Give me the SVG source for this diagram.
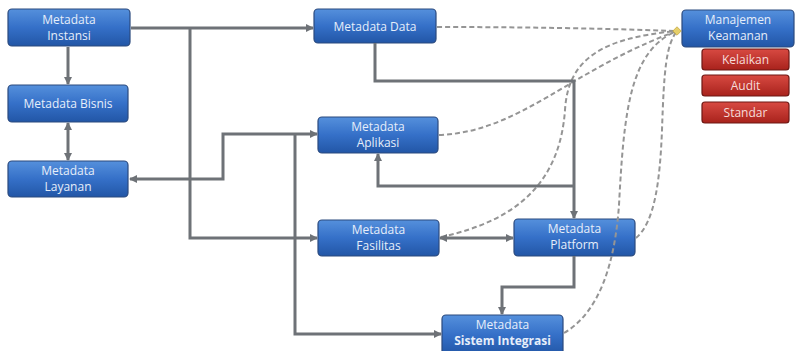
<svg xmlns="http://www.w3.org/2000/svg" width="798" height="351" viewBox="0 0 798 351">
<style>
.n rect{fill:url(#gb);stroke:#2b4a7e;stroke-width:1.2}
.r rect{fill:url(#gr);stroke:#6e1814;stroke-width:1.2}
text{font-family:"Open Sans","Noto Sans","DejaVu Sans",sans-serif;font-size:12px;fill:#e6eefa;text-anchor:middle}
.r text{fill:#f6dcda}
.c path{fill:none;stroke:#6e7277;stroke-width:3;stroke-linejoin:miter}
.d path{fill:none;stroke:#959595;stroke-width:2;stroke-dasharray:5 3}
</style>
<defs>
<linearGradient id="gb" x1="0" y1="0" x2="0" y2="1">
<stop offset="0" stop-color="#5590dc"/><stop offset="0.5" stop-color="#3570c8"/><stop offset="1" stop-color="#2256a6"/>
</linearGradient>
<linearGradient id="gr" x1="0" y1="0" x2="0" y2="1">
<stop offset="0" stop-color="#d84a42"/><stop offset="1" stop-color="#a8221c"/>
</linearGradient>
<marker id="a" viewBox="0 0 8 8" refX="7" refY="4" markerWidth="8" markerHeight="8" markerUnits="userSpaceOnUse" orient="auto-start-reverse">
<path d="M0,0 L8,4 L0,8 z" fill="#6e7277"/>
</marker>
</defs>
<rect width="798" height="351" fill="#ffffff"/>
<g id="instansi" class="n"><rect x="8" y="9" width="122" height="37" rx="4"/><text x="69" y="24">Metadata</text><text x="69" y="40">Instansi</text></g>
<g id="bisnis" class="n"><rect x="8" y="85" width="120" height="37" rx="4"/><text x="68" y="108">Metadata Bisnis</text></g>
<g id="layanan" class="n"><rect x="8" y="161" width="120" height="36" rx="4"/><text x="68" y="175">Metadata</text><text x="68" y="191">Layanan</text></g>
<g id="data" class="n"><rect x="314" y="9" width="122" height="34" rx="4"/><text x="375" y="31">Metadata Data</text></g>
<g id="aplikasi" class="n"><rect x="318" y="117" width="120" height="36" rx="4"/><text x="378" y="131">Metadata</text><text x="378" y="147">Aplikasi</text></g>
<g id="fasilitas" class="n"><rect x="318" y="220" width="121" height="36" rx="4"/><text x="378.5" y="234">Metadata</text><text x="378.5" y="250">Fasilitas</text></g>
<g id="platform" class="n"><rect x="514" y="219" width="121" height="37" rx="4"/><text x="574.5" y="233">Metadata</text><text x="574.5" y="249">Platform</text></g>
<g id="sistem" class="n"><rect x="442" y="315" width="121" height="40" rx="4"/><text x="502.5" y="329">Metadata</text><text x="502.5" y="345" font-weight="bold">Sistem Integrasi</text></g>
<g id="manajemen" class="n"><rect x="682" y="10" width="112" height="37" rx="4"/><text x="738" y="24">Manajemen</text><text x="738" y="40">Keamanan</text></g>
<g id="kelaikan" class="r"><rect x="702" y="49" width="87" height="21" rx="3"/><text x="745.5" y="64">Kelaikan</text></g>
<g id="audit" class="r"><rect x="702" y="75" width="87" height="21" rx="3"/><text x="745.5" y="90">Audit</text></g>
<g id="standar" class="r"><rect x="702" y="102" width="87" height="21" rx="3"/><text x="745.5" y="117">Standar</text></g>
<g id="connectors">
<g class="d">
<path d="M437,27 Q560,27 677,31"/>
<path d="M439,135 C520,132 570,70 677,31"/>
<path d="M441,237 C520,220 560,180 565,110 C568,60 600,38 677,31"/>
<path d="M564,333 C600,312 615,262 619,205 C624,110 630,50 677,31"/>
<path d="M636,238 C655,222 660,180 662,130 C664,70 666,45 677,31"/>
</g>
<g class="c">
<path d="M131,28 H313" marker-end="url(#a)"/>
<path d="M190,28 V238 H317" marker-end="url(#a)"/>
<path d="M68,47 V84" marker-end="url(#a)"/>
<path d="M68,123 V160" marker-start="url(#a)" marker-end="url(#a)"/>
<path d="M130,179 H223 V134 H317" marker-start="url(#a)" marker-end="url(#a)"/>
<path d="M295,134 V334 H441" marker-end="url(#a)"/>
<path d="M375,43 V81 H574 V218" marker-end="url(#a)"/>
<path d="M574,186 H378 V154" marker-end="url(#a)"/>
<path d="M440,238 H513" marker-start="url(#a)" marker-end="url(#a)"/>
<path d="M574,256 V287 H502 V314" marker-end="url(#a)"/>
</g>
<rect x="674" y="28" width="6" height="6" transform="rotate(45 677 31)" fill="#e6cf6a" stroke="#b89a30" stroke-width="0.6"/>
</g>
</svg>
